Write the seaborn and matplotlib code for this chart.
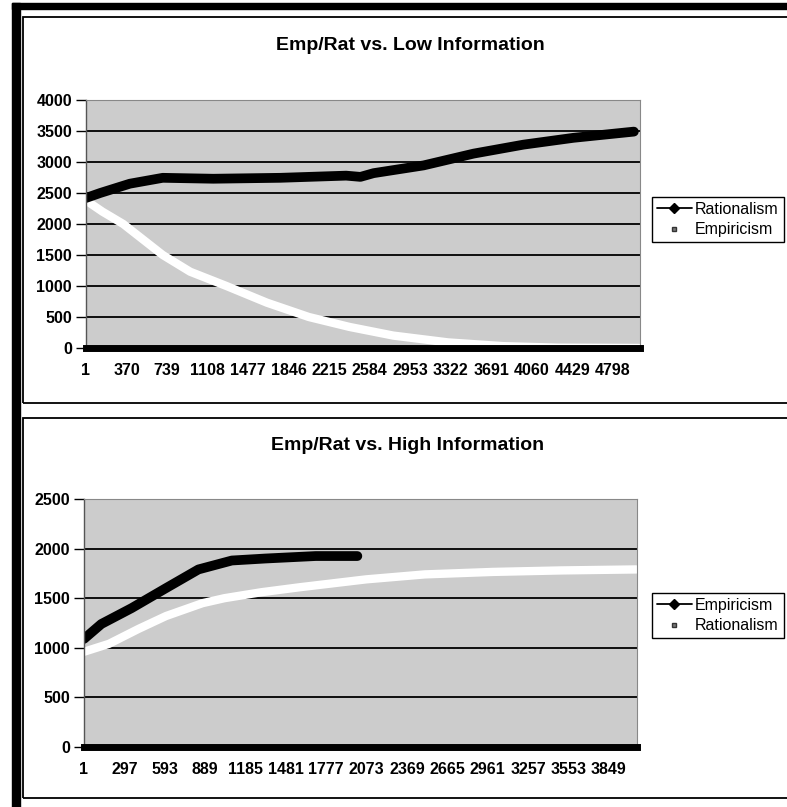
import numpy as np
import pandas as pd
import seaborn as sns
import matplotlib.pyplot as plt
from matplotlib.lines import Line2D
from matplotlib.patches import Rectangle

# --- Low information chart ---
low_rat_x = [1, 130, 400, 700, 1160, 1770, 2370, 2500, 2620, 3075, 3530, 3985, 4440, 4990]
low_rat_y = [2420, 2500, 2650, 2745, 2730, 2745, 2780, 2760, 2820, 2945, 3135, 3280, 3390, 3490]
low_emp_x = [1, 150, 340, 520, 700, 950, 1280, 1650, 2030, 2400, 2800, 3300, 3800, 4300, 5040]
low_emp_y = [2380, 2200, 2000, 1750, 1500, 1230, 1000, 730, 500, 340, 200, 90, 30, 5, 0]
low_xticks = [1, 370, 739, 1108, 1477, 1846, 2215, 2584, 2953, 3322, 3691, 4060, 4429, 4798]
low_yticks = [0, 500, 1000, 1500, 2000, 2500, 3000, 3500, 4000]

# --- High information chart ---
high_emp_x = [1, 128, 350, 600, 840, 1085, 1330, 1700, 2005]
high_emp_y = [1090, 1240, 1400, 1600, 1790, 1880, 1900, 1925, 1925]
high_rat_x = [1, 184, 400, 602, 870, 1030, 1300, 1580, 2070, 2500, 3000, 3500, 4050]
high_rat_y = [960, 1040, 1190, 1320, 1450, 1500, 1560, 1610, 1690, 1740, 1765, 1780, 1790]
high_xticks = [1, 297, 593, 889, 1185, 1481, 1777, 2073, 2369, 2665, 2961, 3257, 3553, 3849]
high_yticks = [0, 500, 1000, 1500, 2000, 2500]

sns.set_style("white")
plt.rcParams['font.family'] = ['Liberation Sans', 'DejaVu Sans']
plt.rcParams['text.color'] = 'black'

W, H = 787, 807
fig = plt.figure(figsize=(W / 100, H / 100), dpi=100)

def px_box(x0, y0, x1, y1):
    return [x0 / W, 1 - y1 / H, (x1 - x0) / W, (y1 - y0) / H]

def style_axes(ax, xticks, yticks, xmax):
    ax.set_facecolor('#cccccc')
    ax.set_xlim(1, xmax)
    ax.set_ylim(0, yticks[-1])
    ax.set_yticks(yticks)
    ax.set_xticks(xticks)
    ax.set_xticklabels([str(t) for t in xticks])
    ax.yaxis.grid(True, color='black', linewidth=1.3)
    ax.set_axisbelow(True)
    ax.tick_params(axis='y', length=7, width=1, color='black', labelcolor='black',
                   labelsize=11.5, pad=3, left=True)
    ax.tick_params(axis='x', length=0, labelsize=11.5, labelcolor='black', pad=11)
    for lab in ax.get_xticklabels() + ax.get_yticklabels():
        lab.set_fontweight('bold')
    ax.spines['bottom'].set_linewidth(5)
    ax.spines['bottom'].set_color('black')
    ax.spines['left'].set_color('#555555')
    ax.spines['left'].set_linewidth(1)
    for s in ['top', 'right']:
        ax.spines[s].set_color('#888888')
        ax.spines[s].set_linewidth(0.8)
    ax.set_xlabel('')
    ax.set_ylabel('')

def legend_handles(first, second):
    return [Line2D([], [], color='black', marker='D', markersize=5, linewidth=1.3, label=first),
            Line2D([], [], color='none', marker='s', markersize=3.5, markerfacecolor='#777777',
                   markeredgecolor='#333333', label=second)]

# top chart
ax1 = fig.add_axes(px_box(86, 100, 640, 348))
sns.lineplot(x=low_emp_x, y=low_emp_y, ax=ax1, color='white', linewidth=6, solid_capstyle='round')
sns.lineplot(x=low_rat_x, y=low_rat_y, ax=ax1, color='black', linewidth=7, solid_capstyle='round')
style_axes(ax1, low_xticks, low_yticks, 5046)

# bottom chart
ax2 = fig.add_axes(px_box(84, 499, 637, 747))
sns.lineplot(x=high_rat_x, y=high_rat_y, ax=ax2, color='white', linewidth=6, solid_capstyle='round')
sns.lineplot(x=high_emp_x, y=high_emp_y, ax=ax2, color='black', linewidth=7, solid_capstyle='round')
style_axes(ax2, high_xticks, high_yticks, 4055)

fig.text(410 / W, 1 - 46 / H, 'Emp/Rat vs. Low Information', ha='center', va='center',
         fontsize=14, fontweight='bold')
fig.text(408 / W, 1 - 445 / H, 'Emp/Rat vs. High Information', ha='center', va='center',
         fontsize=14, fontweight='bold')

for handles, top in [(legend_handles('Rationalism', 'Empiricism'), 197),
                     (legend_handles('Empiricism', 'Rationalism'), 593)]:
    leg = fig.legend(handles=handles, loc='upper left', bbox_to_anchor=(652 / W, 1 - top / H),
                     fontsize=11.5, frameon=True, fancybox=False, framealpha=1,
                     edgecolor='black', handlelength=2.2, borderpad=0.3,
                     labelspacing=0.35, handletextpad=0.2, borderaxespad=0)
    leg.get_frame().set_linewidth(1)

# scanned page frame
fig.add_artist(Rectangle((12 / W, 0), 8 / W, 1 - 3 / H, transform=fig.transFigure,
                         color='black', zorder=0))
fig.add_artist(Rectangle((12 / W, 1 - 9 / H), 1, 6 / H, transform=fig.transFigure,
                         color='black', zorder=0))
for y0, y1 in [(17, 403), (418, 798)]:
    fig.add_artist(Rectangle((23 / W, 1 - y1 / H), 1, (y1 - y0) / H, transform=fig.transFigure,
                             fill=False, edgecolor='black', linewidth=1.3, zorder=0))

fig.savefig('out.png', dpi=100)
